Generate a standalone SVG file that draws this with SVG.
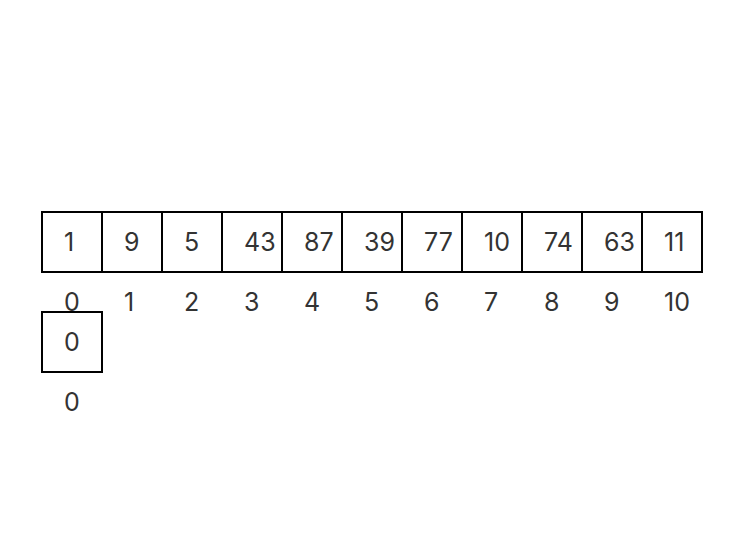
<svg xmlns="http://www.w3.org/2000/svg" width="748" height="556" viewBox="0 0 748 556">
<style>
.cell{fill:#fff;stroke:#000;stroke-width:2}
.t{font-family:Inter,"Noto Sans",sans-serif;font-size:25px;fill:#333}
</style>
<rect width="748" height="556" fill="#fff"/>
<g id="array">
<g id="c0"><rect class="cell" x="42" y="212" width="60" height="60"/><text class="t" x="64" y="250.5">1</text></g>
<g id="c1"><rect class="cell" x="102" y="212" width="60" height="60"/><text class="t" x="124" y="250.5">9</text></g>
<g id="c2"><rect class="cell" x="162" y="212" width="60" height="60"/><text class="t" x="184" y="250.5">5</text></g>
<g id="c3"><rect class="cell" x="222" y="212" width="60" height="60"/><text class="t" x="244" y="250.5">43</text></g>
<g id="c4"><rect class="cell" x="282" y="212" width="60" height="60"/><text class="t" x="304" y="250.5">87</text></g>
<g id="c5"><rect class="cell" x="342" y="212" width="60" height="60"/><text class="t" x="364" y="250.5">39</text></g>
<g id="c6"><rect class="cell" x="402" y="212" width="60" height="60"/><text class="t" x="424" y="250.5">77</text></g>
<g id="c7"><rect class="cell" x="462" y="212" width="60" height="60"/><text class="t" x="484" y="250.5">10</text></g>
<g id="c8"><rect class="cell" x="522" y="212" width="60" height="60"/><text class="t" x="544" y="250.5">74</text></g>
<g id="c9"><rect class="cell" x="582" y="212" width="60" height="60"/><text class="t" x="604" y="250.5">63</text></g>
<g id="c10"><rect class="cell" x="642" y="212" width="60" height="60"/><text class="t" x="664" y="250.5">11</text></g>
</g>
<g id="indices">
<text class="t" x="64" y="310.5">0</text>
<text class="t" x="124" y="310.5">1</text>
<text class="t" x="184" y="310.5">2</text>
<text class="t" x="244" y="310.5">3</text>
<text class="t" x="304" y="310.5">4</text>
<text class="t" x="364" y="310.5">5</text>
<text class="t" x="424" y="310.5">6</text>
<text class="t" x="484" y="310.5">7</text>
<text class="t" x="544" y="310.5">8</text>
<text class="t" x="604" y="310.5">9</text>
<text class="t" x="664" y="310.5">10</text>
</g>
<g id="array2">
<g id="d0"><rect class="cell" x="42" y="312" width="60" height="60"/><text class="t" x="64" y="350.5">0</text></g>
</g>
<g id="indices2">
<text class="t" x="64" y="410.5">0</text>
</g>
<g id="connectors"/>
</svg>
